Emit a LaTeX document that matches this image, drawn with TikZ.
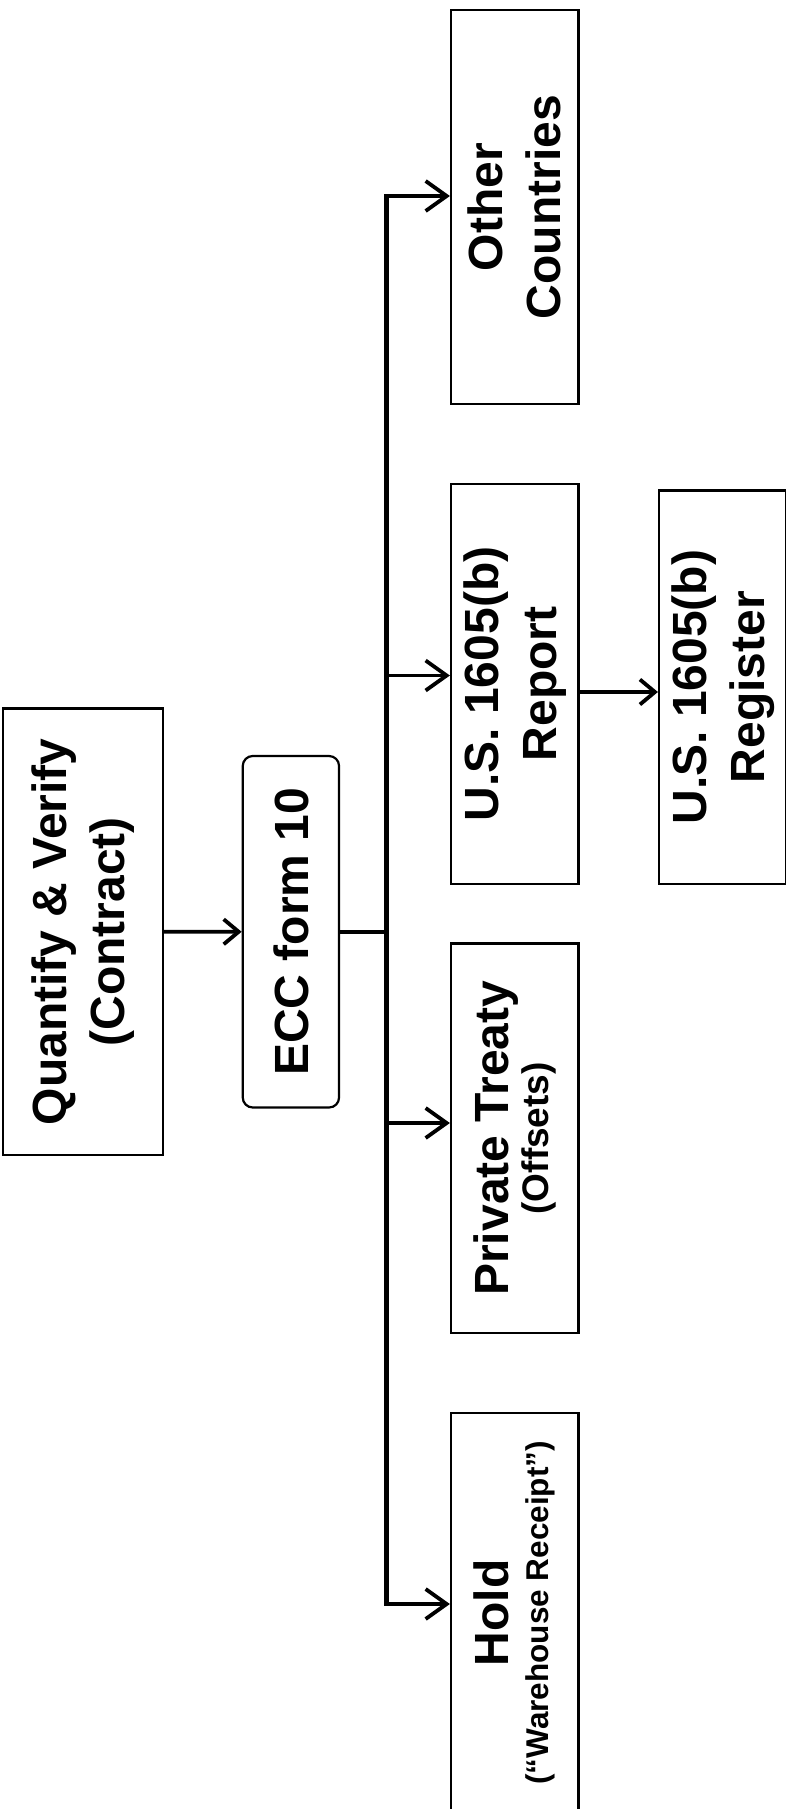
\documentclass[tikz,border=0pt]{standalone}
\usepackage{fontspec}
\usepackage{graphicx}
\setmainfont{Liberation Sans}
\usetikzlibrary{arrows.meta}
\newcommand\rtext[2][29pt]{\rotatebox{90}{\vbox{\baselineskip=#1\relax\lineskiplimit=-100pt\lineskip=0pt\halign{\hfil##\hfil\cr#2\crcr}}}}
\newcommand\smallA{\fontsize{18.5}{20}\selectfont}
\newcommand\smallB{\fontsize{15.75}{20}\selectfont}
\begin{document}
\begin{tikzpicture}[x=0.5pt,y=-0.5pt,
  box/.style={draw,line width=1.1pt,inner sep=0pt,font=\bfseries\fontsize{24}{29}\selectfont},
  rbox/.style={box,rounded corners=5pt},
  outbox/.style={box,minimum width=63.75pt},
  busline/.style={line width=2.4pt,line cap=rect},
  branch/.style={line width=1.9pt,-{Straight Barb[length=10.5pt,width=15pt]}},
  link/.style={line width=1.9pt,-{Straight Barb[length=7.5pt,width=12.5pt]}}]
\useasboundingbox (0,0) rectangle (786,1809);
% nodes
\node[box,minimum width=79.85pt,minimum height=223.25pt] (q) at (83.2,931.8)
  {\rtext{Quantify \& Verify\cr(Contract)}};
\node[rbox,minimum width=48.15pt,minimum height=175.75pt] (ecc) at (290.9,931.75)
  {\rtext{ECC form 10}};
\node[outbox,minimum height=196.8pt] (oc) at (514.75,207.2)
  {\rtext{Other\cr Countries}};
\node[outbox,minimum height=200pt] (rep) at (514.75,684)
  {\rtext{U.S. 1605(b)\cr Report}};
\node[outbox,minimum height=196.75pt] (reg) at (722.75,687.25)
  {\rtext{U.S. 1605(b)\cr Register}};
\node[outbox,minimum height=194.75pt] (pt) at (514.75,1138.25)
  {\rtext[20pt]{Private Treaty\cr\smallA(Offsets)}};
\node[outbox,minimum height=200.15pt] (hold) at (514.75,1612.85)
  {\rtext[20pt]{Hold\cr\smallB(“Warehouse Receipt”)}};
% bus
\coordinate (bt) at (386.7,196);
\coordinate (bb) at (386.7,1604);
\coordinate (b2) at (386.7,675.5);
\coordinate (b3) at (386.7,1123);
% connectors
\draw[link] (q.east) -- (ecc.west);
\draw[line width=1.9pt] (ecc.east) -- (ecc.east -| bt);
\draw[busline] (bt) -- (bb);
\draw[branch] (bt) -- (oc.west |- bt);
\draw[branch] (b2) -- (rep.west |- b2);
\draw[branch] (b3) -- (pt.west |- b3);
\draw[branch] (bb) -- (hold.west |- bb);
\coordinate (rr) at (579,692);
\draw[link] (rep.east |- rr) -- (reg.west |- rr);
\end{tikzpicture}
\end{document}
